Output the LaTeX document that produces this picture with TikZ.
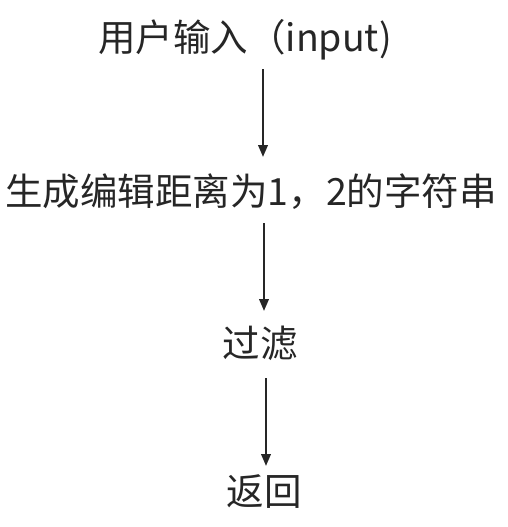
\documentclass[tikz,border=0pt]{standalone}
\usepackage{fontspec}
\setmainfont{Noto Sans CJK SC}
\usepackage{xcolor}
\usepackage{tikz}
\usetikzlibrary{arrows.meta}

\definecolor{ink}{HTML}{262626}

\begin{document}
\begin{tikzpicture}[x=1pt, y=-1pt,
  step text/.style={inner sep=0pt, text=ink, font=\fontsize{37.5}{40}\selectfont},
  flow/.style={draw=ink, line width=2.2pt, -{Triangle[length=12pt,width=9.5pt]}}]
 \useasboundingbox (0,0) rectangle (507,527);

 \node [step text] (input) at (245, 40) {用户输入（input)};
 \node [step text] (gen) at (251, 192) {生成编辑距离为1，2的字符串};
 \node [step text] (filter) at (260, 343) {过滤};
 \node [step text] (ret) at (264, 492) {返回};

 \coordinate (a1) at (263, 69);  \coordinate (b1) at (263, 157);
 \coordinate (a2) at (264, 223); \coordinate (b2) at (264, 311);
 \coordinate (a3) at (266, 378); \coordinate (b3) at (266, 466);

 \draw [flow] (a1) -- (b1);
 \draw [flow] (a2) -- (b2);
 \draw [flow] (a3) -- (b3);
\end{tikzpicture}
\end{document}
